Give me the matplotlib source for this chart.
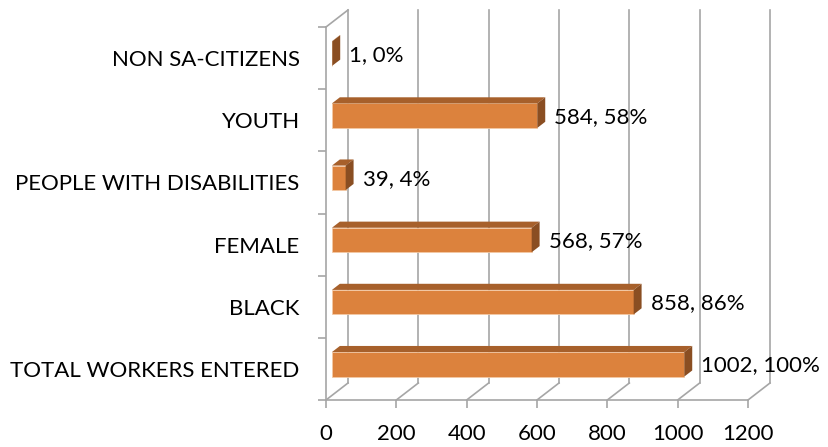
import matplotlib.pyplot as plt
import numpy as np

categories = ["TOTAL WORKERS ENTERED", "BLACK", "FEMALE",
              "PEOPLE WITH DISABILITIES", "YOUTH", "NON SA-CITIZENS"]
values = [1002, 858, 568, 39, 584, 1]
xticks = [0, 200, 400, 600, 800, 1000, 1200]

plt.rcParams['font.family'] = ['Lato', 'DejaVu Sans']
FS = 16.0

W, H = 829, 447
fig = plt.figure(figsize=(W / 100, H / 100), dpi=100)
# front plane of the 3d box
ax = fig.add_axes([326 / W, 47 / H, 422 / W, 373 / H])
ax.set_xlim(0, 1200)
ax.set_ylim(0, len(categories))

# depth offset of the back wall in data units
DX = 22 / 422 * 1200
DY = 17 / 373 * len(categories)
grid_c = "#a6a6a6"

# back wall gridlines and floor diagonals
for v in xticks:
    ax.plot([v + DX, v + DX], [DY, len(categories) + DY], color=grid_c, lw=1.2,
            clip_on=False, zorder=1)
    ax.plot([v, v + DX], [0, DY], color=grid_c, lw=1.2, clip_on=False, zorder=1)
ax.plot([0, DX], [len(categories), len(categories) + DY], color=grid_c, lw=1.2,
        clip_on=False, zorder=1)

# bars
d0, d1 = 0.27, 0.63
h = 0.197
front_c, top_c, side_c = "#dc823d", "#a7602b", "#8a4e22"
for i, v in enumerate(values):
    yc = i + 0.5
    x0, y0 = d0 * DX, d0 * DY
    x1, y1 = d1 * DX, d1 * DY
    ax.fill([x0, v + x0, v + x0, x0], [yc - h + y0, yc - h + y0, yc + h + y0, yc + h + y0],
            color=front_c, ec="#f3c9a5", lw=0.6, clip_on=False, zorder=3)
    ax.fill([x0, v + x0, v + x1, x1], [yc + h + y0, yc + h + y0, yc + h + y1, yc + h + y1],
            color=top_c, lw=0, clip_on=False, zorder=3)
    ax.fill([v + x0, v + x1, v + x1, v + x0], [yc - h + y0, yc - h + y1, yc + h + y1, yc + h + y0],
            color=side_c, lw=0, clip_on=False, zorder=3)
    pct = round(100 * v / values[0])
    ax.text(v + x1 + 9 / 422 * 1200, yc + y0 - 0.02, f"{v}, {pct}%", fontsize=FS,
            va="center", ha="left", clip_on=False, zorder=4)

# axes: spines form the front edges of the box
for s in ["top", "right"]:
    ax.spines[s].set_visible(False)
for s in ["left", "bottom"]:
    ax.spines[s].set_color(grid_c)
    ax.spines[s].set_linewidth(1.2)

ax.set_xticks(xticks)
ax.set_xticklabels([str(t) for t in xticks], fontsize=FS)
ax.tick_params(axis="x", length=6, width=1.2, color=grid_c, pad=11)

ax.set_yticks(np.arange(len(categories)) + 0.5)
ax.set_yticklabels(categories, fontsize=FS)
ax.set_yticks(np.arange(len(categories) + 1), minor=True)
ax.tick_params(axis="y", which="major", length=0, pad=19)
ax.tick_params(axis="y", which="minor", length=6, width=1.2, color=grid_c)

fig.savefig("out.png", dpi=100, facecolor="white")
